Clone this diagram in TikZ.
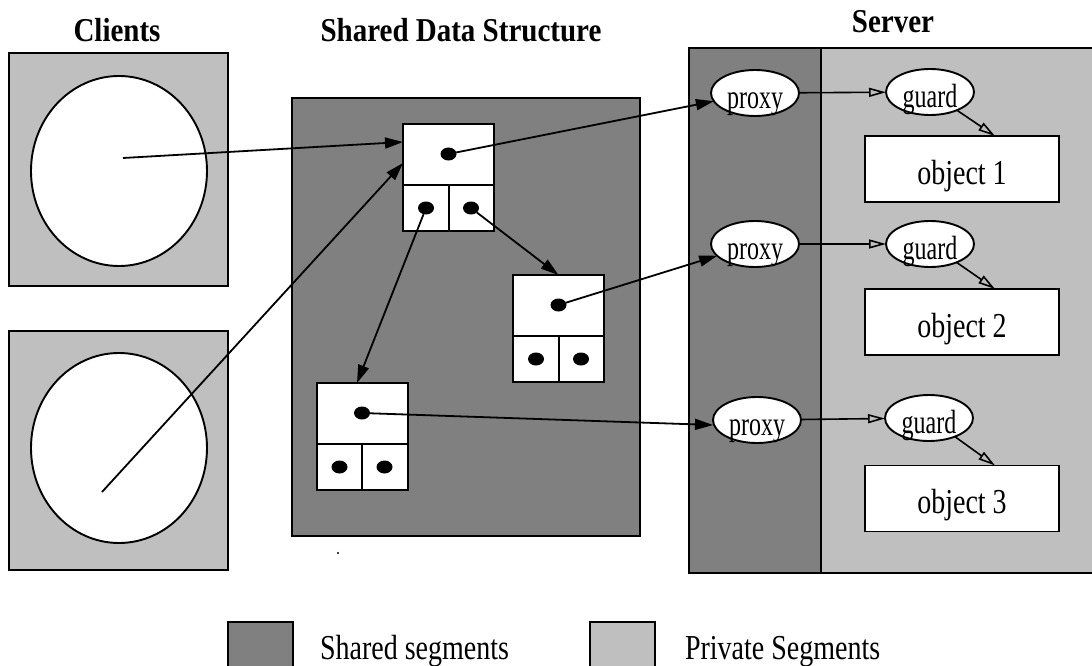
\documentclass[tikz,border=0pt]{standalone}
\usepackage{graphicx}
\usepackage{fontspec}
\setmainfont{Liberation Serif}
\usetikzlibrary{shapes.geometric, arrows.meta, calc}

% text set a little taller than wide
\newcommand{\tallby}[2]{\scalebox{1}[#1]{#2}}

\begin{document}
\begin{tikzpicture}[x=1pt,y=-1pt,
  every node/.style={inner sep=0pt, outer sep=0pt},
  seg/.style={draw=black, line width=1.9pt},
  sharedseg/.style={seg, fill=black!50},
  privateseg/.style={seg, fill=black!25},
  clientproc/.style={ellipse, draw, fill=white, line width=1.9pt, minimum width=176pt, minimum height=190pt},
  cellbox/.style={draw, fill=white, line width=2pt, minimum width=91pt, minimum height=107pt},
  ptrdot/.style={ellipse, fill=black, minimum width=16pt, minimum height=13pt},
  oval/.style={ellipse, draw, fill=white, line width=1.9pt, minimum width=88pt, minimum height=46pt,
    text height=31pt, text depth=0pt, font=\fontsize{24}{24}\selectfont},
  objbox/.style={draw, fill=white, line width=1.9pt, minimum width=194pt, minimum height=66pt,
    text height=30pt, text depth=0pt, font=\fontsize{28}{28}\selectfont},
  link/.style={line width=1.8pt, -{Triangle[length=18pt,width=11pt]}},
  guardlink/.style={line width=1.6pt, -{Triangle[open,length=17pt,width=9pt]}},
  heading/.style={font=\bfseries\fontsize{29}{29}\selectfont, anchor=base},
  legendtext/.style={font=\fontsize{28}{28}\selectfont, anchor=base west},
]
\useasboundingbox (0,0) rectangle (1092,666);

% headings
\node[heading] (hclients) at (117,42) {\tallby{1.15}{Clients}};
\node[heading] (hshared) at (461,42) {\tallby{1.15}{Shared Data Structure}};
\node[heading] (hserver) at (893,33) {\tallby{1.15}{Server}};

% client address spaces
\draw[privateseg] (9,53) rectangle (228,286);
\draw[privateseg] (9,331) rectangle (228,570);
\node[clientproc] (c1) at (119,171) {};
\node[clientproc] (c2) at (119,448) {};
\coordinate (c1p) at (123,158);
\coordinate (c2p) at (102,492);

% shared segment
\draw[sharedseg] (292,98) rectangle (640,536);
\fill (338,553) circle (1.2pt);

% server: shared column and private part
\draw[sharedseg] (689,48) rectangle (821,573);
\draw[privateseg] (821,48) rectangle (1100,573);

% tree cells of the shared structure
\node[cellbox] (n1) at (448.5,177.5) {};
\node[cellbox] (n2) at (558.5,328.5) {};
\node[cellbox] (n3) at (362,436.5) {};
\foreach \n in {n1,n2,n3} {
  \draw[line width=2pt] ($(\n.north west)+(0,61)$) -- ($(\n.north east)+(0,61)$);
  \draw[line width=2pt] ($(\n.north)+(0,61)$) -- (\n.south);
  \node[ptrdot] (\n u) at ($(\n.north)+(0,30)$) {};
  \node[ptrdot] (\n l) at ($(\n.south)+(-22.5,-23)$) {};
  \node[ptrdot] (\n r) at ($(\n.south)+(22.5,-23)$) {};
}

% proxies, guards and objects
\node[oval] (p1) at (755,93) {\tallby{1.4}{proxy}};
\node[oval] (p2) at (755,244) {\tallby{1.4}{proxy}};
\node[oval] (p3) at (757,420) {\tallby{1.4}{proxy}};
\node[oval] (g1) at (930,92) {\tallby{1.4}{guard}};
\node[oval] (g2) at (930,244) {\tallby{1.4}{guard}};
\node[oval] (g3) at (929,418) {\tallby{1.4}{guard}};
\node[objbox] (o1) at (962,169) {\tallby{1.25}{object 1}};
\node[objbox] (o2) at (962,322) {\tallby{1.25}{object 2}};
\node[objbox] (o3) at (962,498.5) {\tallby{1.25}{object 3}};

% references
\draw[link] (c1p) -- ($(n1.north west)+(0,18)$);
\draw[link] (c2p) -- ($(n1.north west)+(0,39)$);
\draw[link] (n1l) -- ($(n3.north)+(-5,0)$);
\draw[link] (n1r) -- (n2.north);
\draw[link] (n1u) -- (p1);
\draw[link] (n2u) -- (p2);
\draw[link] (n3u) -- ($(p3.west)+(0,5)$);
\foreach \i in {1,2,3} {
  \draw[guardlink] (p\i) -- (g\i);
  \draw[guardlink] (g\i) -- ($(o\i.north)+(33,0)$);
}

% legend
\draw[sharedseg] (228,622) rectangle (293,680);
\node[legendtext] (lshared) at (320,659) {\tallby{1.25}{Shared segments}};
\draw[privateseg] (590,622) rectangle (655,680);
\node[legendtext] (lprivate) at (685,659) {\tallby{1.25}{Private Segments}};
\end{tikzpicture}
\end{document}
